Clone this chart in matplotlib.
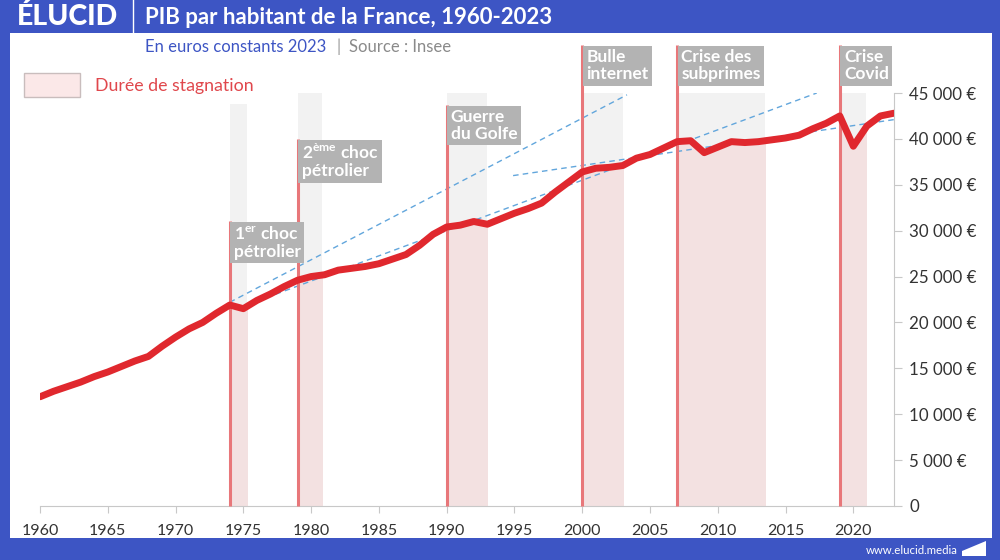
import numpy as np
import matplotlib.pyplot as plt
from matplotlib.patches import Rectangle, Polygon

plt.rcParams['font.family'] = ['Lato', 'DejaVu Sans']
plt.rcParams['mathtext.fontset'] = 'custom'
plt.rcParams['mathtext.rm'] = 'Lato:bold'
plt.rcParams['mathtext.bf'] = 'Lato:bold'

# PIB par habitant, euros constants 2023
years = np.arange(1960, 2024)
pib = [11900, 12500, 13000, 13500, 14100, 14600, 15200, 15800, 16300, 17400,
       18400, 19300, 20000, 21000, 21900, 21500, 22400, 23100, 23900, 24600,
       25000, 25200, 25700, 25900, 26100, 26400, 26900, 27400, 28400, 29600,
       30400, 30600, 31000, 30700, 31300, 31900, 32400, 33000, 34200, 35300,
       36400, 36800, 36900, 37100, 37900, 38300, 39000, 39700, 39800, 38500,
       39100, 39700, 39600, 39700, 39900, 40100, 40400, 41100, 41700, 42500,
       39200, 41400, 42500, 42800]

# crises
event_years = [1974, 1979, 1990, 2000, 2007, 2019]
event_tops = [31000, 40000, 43700, 50200, 50200, 50200]
event_labels = ['1$^{\\mathbf{er}}$ choc\npétrolier', '2$^{\\mathbf{ème}}$ choc\npétrolier',
                'Guerre\ndu Golfe', 'Bulle\ninternet', 'Crise des\nsubprimes', 'Crise\nCovid']
stag_end = [1975.3, 1980.8, 1993, 2003, 2013.5, 2020.9]
stag_top = [43800, 45000, 45000, 45000, 45000, 45000]

# tendances (pointillés)
trend_x = [[1974, 2003.3], [1974.7, 2017.3], [1994.9, 2023]]
trend_y = [[22200, 44800], [21600, 45000], [36000, 42100]]

xticks = list(range(1960, 2021, 5))
yticks = list(range(0, 45001, 5000))

BLUE = '#3D55C4'
RED = '#E0282E'
LINE_RED = '#E8777A'
GREY_BOX = '#B3B3B3'


def px(x, y):
    return x / 1000, 1 - y / 560


fig = plt.figure(figsize=(10, 5.6), dpi=100)
fig.patch.set_facecolor(BLUE)
fig.add_artist(Rectangle(px(10, 538), 0.982, 505 / 560, transform=fig.transFigure,
                         fc='white', ec='none', zorder=0))

# en-tete
fig.text(*px(17, 17), 'ÉLUCID', color='white', fontsize=20.5, fontweight='black', va='center')
fig.add_artist(plt.Line2D([0.133, 0.133], [1, 1 - 33 / 560], transform=fig.transFigure,
                          color='white', lw=1))
fig.text(*px(145, 17), 'PIB par habitant de la France, 1960-2023', color='white',
         fontsize=16, fontweight='bold', va='center')
fig.text(*px(145, 47), 'En euros constants 2023', color=BLUE, fontsize=12, va='center')
fig.text(*px(336, 47), '|', color='#999999', fontsize=12, va='center')
fig.text(*px(349, 47), 'Source : Insee', color='#8A8A8A', fontsize=12, va='center')

# legende
fig.add_artist(Rectangle(px(24, 97), 56 / 1000, 24 / 560, transform=fig.transFigure,
                         fc='#FBE8E8', ec='#C9BDBD', lw=1))
fig.text(*px(95, 86), 'Durée de stagnation', color='#E0474C', fontsize=12.8, va='center')

# pied de page
fig.text(*px(958, 550), 'www.elucid.media', color='white', fontsize=8.2,
         ha='right', va='center')
fig.add_artist(Polygon([px(962, 556), px(986, 556), px(986, 541), px(962, 551)],
                       closed=True, transform=fig.transFigure, fc='white', ec='none'))

ax = fig.add_axes([0.04, 1 - 506 / 560, 0.854, 413 / 560])
ax.patch.set_alpha(0)
ax.set_xlim(1960, 2023)
ax.set_ylim(0, 45000)

# périodes de stagnation : gris au-dessus de la courbe, rose en dessous
for x0, x1, top in zip(event_years, stag_end, stag_top):
    rect = Rectangle((x0, 0), x1 - x0, top, fc='#F2F2F2', ec='none', zorder=1)
    ax.add_patch(rect)
    fill = ax.fill_between(years, 0, pib, color='#F3E1E1', lw=0, zorder=1)
    fill.set_clip_path(rect)

for tx, ty in zip(trend_x, trend_y):
    ax.plot(tx, ty, color='#62A6DC', lw=1, dashes=(4, 3), zorder=2)

for yr, top, lab in zip(event_years, event_tops, event_labels):
    ax.plot([yr, yr], [0, top], color=LINE_RED, lw=2.2, zorder=3,
            clip_on=False, solid_capstyle='butt')
    ax.annotate(lab, xy=(yr, top), xytext=(3, -3), textcoords='offset points',
                ha='left', va='top', color='white', fontsize=12.5, fontweight='bold',
                linespacing=1.05, zorder=5, annotation_clip=False,
                bbox=dict(boxstyle='square,pad=0.2', fc=GREY_BOX, ec='none'))

ax.plot(years, pib, color=RED, lw=5, solid_joinstyle='round',
        solid_capstyle='round', zorder=4)

for s in ['left', 'top']:
    ax.spines[s].set_visible(False)
for s in ['right', 'bottom']:
    ax.spines[s].set_color('#C8C8C8')

ax.yaxis.tick_right()
ax.set_yticks(yticks)
ax.set_yticklabels(['0' if v == 0 else f'{v:,} €'.replace(',', ' ') for v in yticks])
ax.set_xticks(xticks)
ax.set_xticklabels([str(v) for v in xticks])
ax.tick_params(axis='y', length=6, color='#C8C8C8', labelsize=12.2, labelcolor='#333333', pad=5)
ax.tick_params(axis='x', length=5, color='#C8C8C8', labelsize=11.5, labelcolor='#333333', pad=8)

fig.savefig('out.png', dpi=100)
